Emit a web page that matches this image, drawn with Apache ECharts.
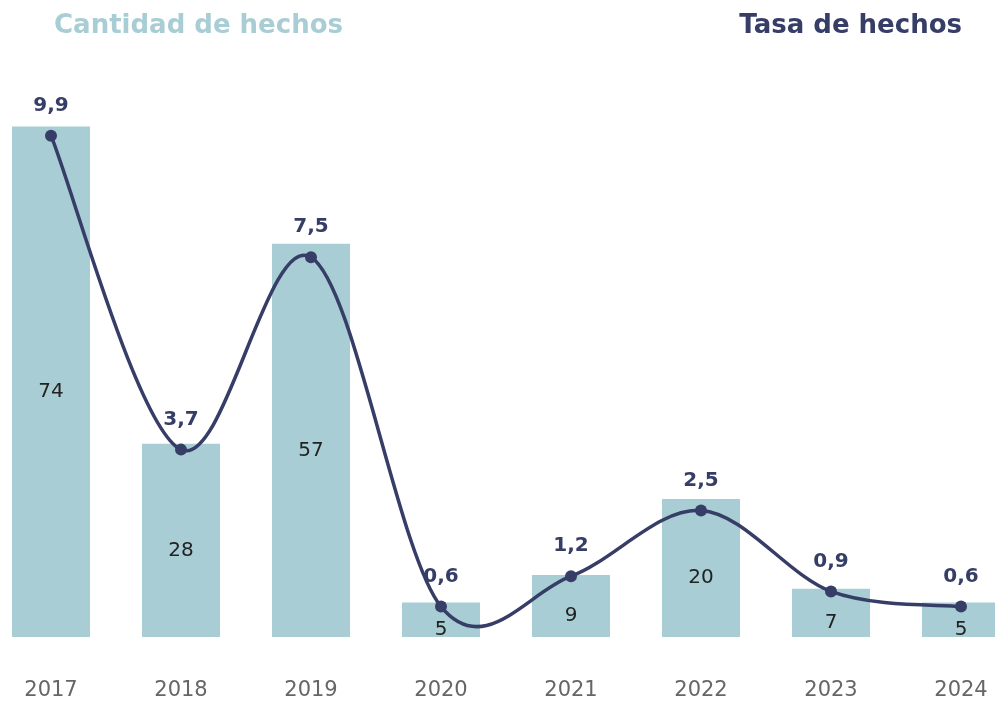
<!DOCTYPE html>
<html>
<head>
<meta charset="utf-8">
<script src="https://cdn.jsdelivr.net/npm/echarts@6/dist/echarts.min.js"></script>
<style>
  html, body { margin: 0; padding: 0; background: #ffffff; }
  #chart { width: 995px; height: 704px; }
</style>
</head>
<body>
<div id="chart"></div>
<script>
// Años, cantidad de hechos y tasa de hechos
const years = ['2017', '2018', '2019', '2020', '2021', '2022', '2023', '2024'];
const cantidad = [74, 28, 57, 5, 9, 20, 7, 5];
const tasa = [9.9, 3.7, 7.5, 0.6, 1.2, 2.5, 0.9, 0.6];

const FONT = '"DejaVu Sans", "Noto Sans", sans-serif';
const NAVY = '#363d66';
const TEAL = '#a8cdd4';

const chart = echarts.init(document.getElementById('chart'), null, { renderer: 'canvas' });

// One Catmull-Rom segment (as a cubic Bézier) from point i to point i+1,
// positioned through the axes of the series.
function renderCurveSegment(params, api) {
  const i = params.dataIndex;
  const last = tasa.length - 1;
  const pt = j => api.coord([Math.max(0, Math.min(last, j)), tasa[Math.max(0, Math.min(last, j))]]);
  const p0 = pt(i - 1), p1 = pt(i), p2 = pt(i + 1), p3 = pt(i + 2);
  const k = 1 / 6;
  return {
    type: 'bezierCurve',
    shape: {
      x1: p1[0], y1: p1[1],
      cpx1: p1[0] + (p2[0] - p0[0]) * k, cpy1: p1[1] + (p2[1] - p0[1]) * k,
      cpx2: p2[0] - (p3[0] - p1[0]) * k, cpy2: p2[1] - (p3[1] - p1[1]) * k,
      x2: p2[0], y2: p2[1]
    },
    style: { stroke: NAVY, lineWidth: 3.5, fill: null, lineCap: 'round' }
  };
}

chart.setOption({
  backgroundColor: '#ffffff',
  animation: false,
  title: [
    {
      text: 'Cantidad de hechos',
      left: 49, top: 8,
      textStyle: { color: TEAL, fontFamily: FONT, fontWeight: 'bold', fontSize: 26 }
    },
    {
      text: 'Tasa de hechos',
      right: 28, top: 8,
      textStyle: { color: NAVY, fontFamily: FONT, fontWeight: 'bold', fontSize: 26 }
    }
  ],
  // the plot band runs past both edges so that each year gets a 130px slot
  grid: { left: -14, width: 1040, top: 85, bottom: 67, outerBoundsMode: 'none', containLabel: false },
  xAxis: {
    type: 'category',
    data: years,
    axisLine: { show: false },
    axisTick: { show: false },
    axisLabel: { color: '#666666', fontFamily: FONT, fontSize: 21, margin: 43 }
  },
  yAxis: [
    { type: 'value', min: 0, max: 80, show: false },
    { type: 'value', min: 0, max: 10.9, show: false }
  ],
  series: [
    {
      type: 'bar',
      yAxisIndex: 0,
      data: cantidad,
      barWidth: 78,
      itemStyle: { color: TEAL },
      label: {
        show: true,
        position: 'inside',
        offset: [0, 10],
        color: '#222222',
        fontFamily: FONT,
        fontSize: 20
      },
      z: 1
    },
    {
      // smoothed rate curve
      type: 'custom',
      yAxisIndex: 1,
      data: tasa.slice(0, -1).map((v, i) => [i, v]),
      encode: { x: 0, y: 1 },
      renderItem: renderCurveSegment,
      silent: true,
      clip: false,
      z: 2
    },
    {
      // rate markers and value labels
      type: 'line',
      yAxisIndex: 1,
      data: tasa,
      symbol: 'circle',
      symbolSize: 12,
      lineStyle: { width: 0, opacity: 0 },
      itemStyle: { color: NAVY },
      label: {
        show: true,
        position: 'top',
        distance: 14,
        color: NAVY,
        fontFamily: FONT,
        fontWeight: 'bold',
        fontSize: 20,
        formatter: p => String(p.value).replace('.', ',')
      },
      z: 3
    }
  ]
});
</script>
</body>
</html>
